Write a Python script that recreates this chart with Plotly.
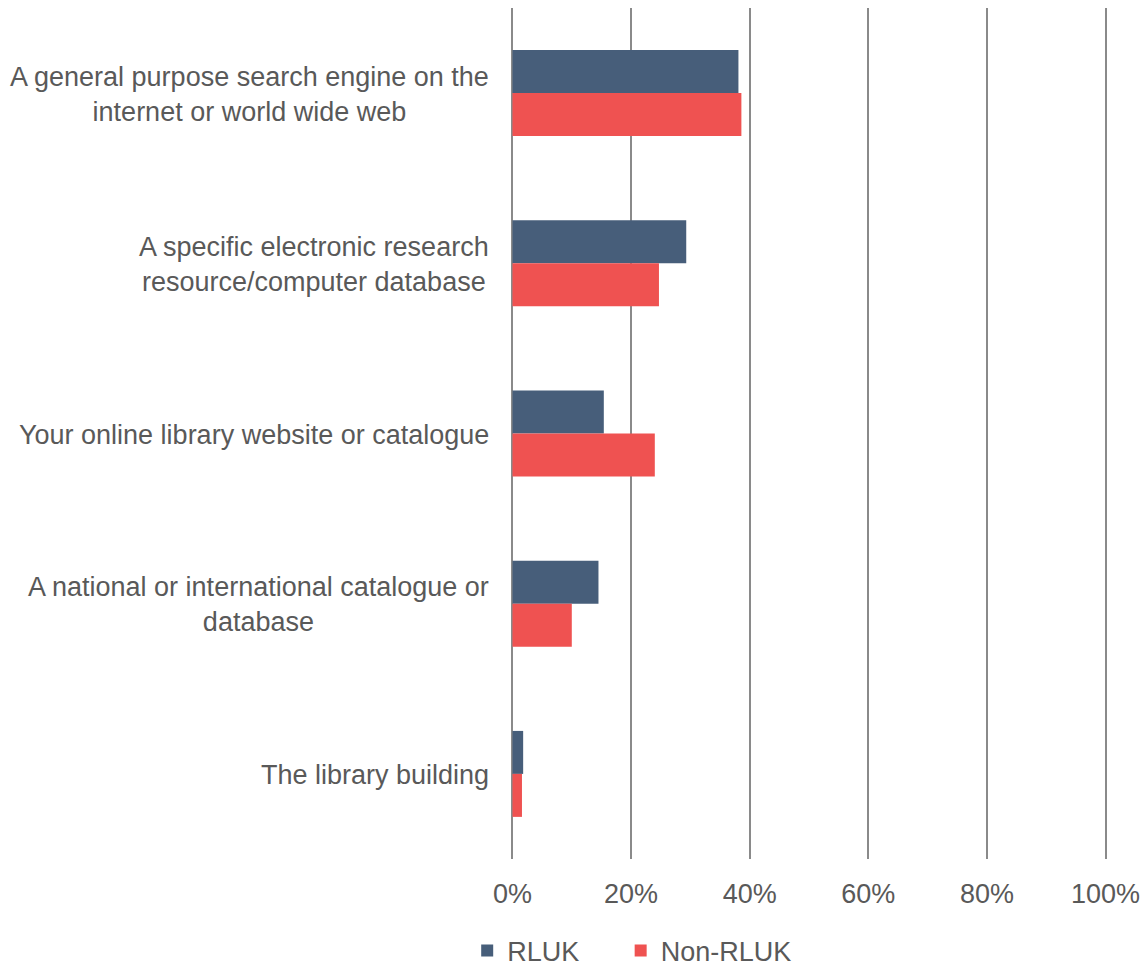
import plotly.graph_objects as go

categories = [
    "A general purpose search engine on the<br>internet or world wide web",
    "A specific electronic research<br>resource/computer database",
    "Your online library website or catalogue",
    "A national or international catalogue or<br>database",
    "The library building",
]
rluk = [38.1, 29.3, 15.4, 14.5, 1.8]
non_rluk = [38.6, 24.7, 24.0, 10.0, 1.6]
tick_vals = [0, 20, 40, 60, 80, 100]
tick_text = ["0%", "20%", "40%", "60%", "80%", "100%"]

FONT = "Liberation Sans, Arial, sans-serif"
TXT = "#595959"
FS = 27

fig = go.Figure()
fig.add_trace(go.Bar(y=categories, x=rluk, orientation="h", name="RLUK",
                     marker=dict(color="#475E7A", line=dict(width=0)),
                     legend="legend"))
fig.add_trace(go.Bar(y=categories, x=non_rluk, orientation="h", name="Non-RLUK",
                     marker=dict(color="#EF5251", line=dict(width=0)),
                     legend="legend2"))

for c in categories:
    fig.add_annotation(x=0, xref="paper", y=c, yref="y", text=c,
                       xanchor="right", yanchor="middle", align="center",
                       xshift=-20, yshift=-1, showarrow=False,
                       font=dict(family=FONT, size=FS, color=TXT))

leg_common = dict(orientation="h", xanchor="left", yanchor="middle", y=-0.1081,
                  font=dict(family=FONT, size=FS, color=TXT),
                  bgcolor="rgba(0,0,0,0)", borderwidth=0)

fig.update_layout(
    width=1145, height=969,
    margin=dict(l=511, r=38, t=8, b=110, pad=0, autoexpand=False),
    paper_bgcolor="white", plot_bgcolor="white",
    barmode="group", bargap=0.495, bargroupgap=0,
    font=dict(family=FONT, size=FS, color=TXT),
    showlegend=True,
    legend=dict(x=-0.0735, **leg_common),
    legend2=dict(x=0.1840, **leg_common),
    xaxis=dict(range=[-0.25, 100.25], tickvals=tick_vals, ticktext=tick_text,
               showgrid=True, gridcolor="#8a8a8a", gridwidth=2,
               zeroline=False, showline=False, ticks="",
               ticklabelstandoff=16,
               tickfont=dict(family=FONT, size=FS, color=TXT)),
    yaxis=dict(autorange="reversed", showticklabels=False, showgrid=False,
               zeroline=False, showline=False, ticks=""),
)

fig.write_html("out.html",
               config={"displayModeBar": False},
               post_script="document.body.style.margin='0';document.body.style.overflow='hidden';")
